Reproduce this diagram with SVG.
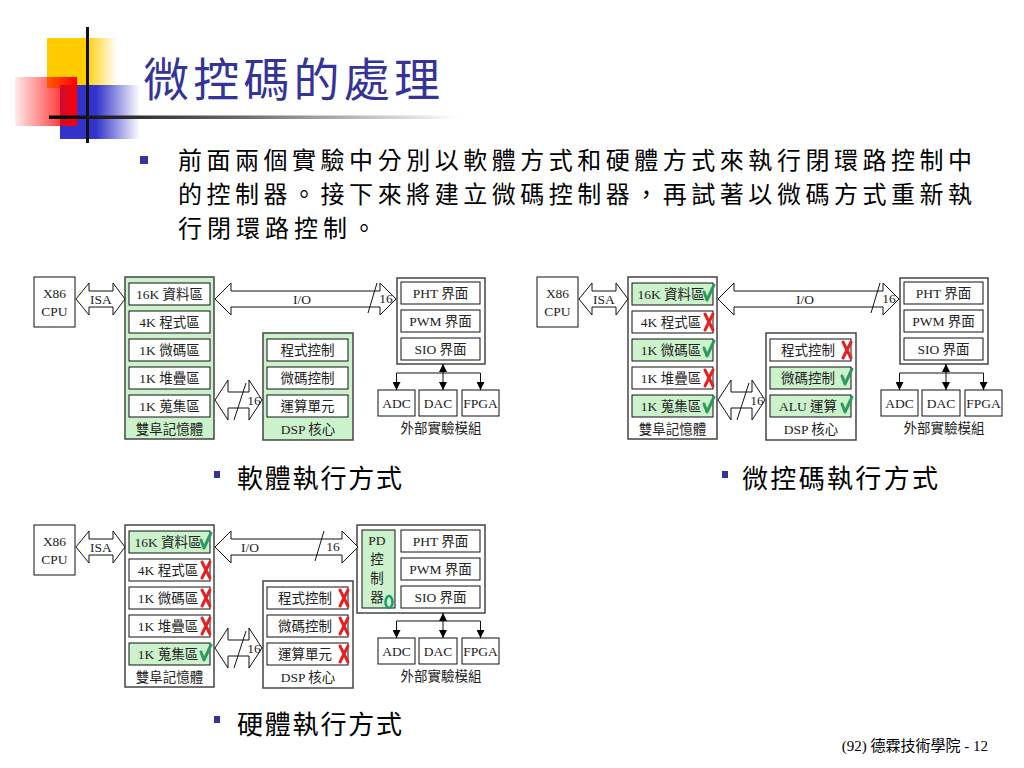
<svg xmlns="http://www.w3.org/2000/svg" width="1024" height="768" viewBox="0 0 1024 768">
<defs>
<linearGradient id="gy" x1="0" y1="0" x2="1" y2="0"><stop offset="0" stop-color="#ffcc00"/><stop offset="0.55" stop-color="#ffcc00"/><stop offset="1" stop-color="#ffcc00" stop-opacity="0"/></linearGradient>
<linearGradient id="gb" x1="0" y1="0" x2="1" y2="0"><stop offset="0" stop-color="#3333cc"/><stop offset="0.45" stop-color="#3333cc"/><stop offset="1" stop-color="#3333cc" stop-opacity="0"/></linearGradient>
<linearGradient id="gr" x1="0" y1="0" x2="1" y2="0"><stop offset="0" stop-color="#ff0000" stop-opacity="0.08"/><stop offset="1" stop-color="#ff0000"/></linearGradient>
<linearGradient id="gl" x1="0" y1="0" x2="1" y2="0"><stop offset="0" stop-color="#000"/><stop offset="0.45" stop-color="#666"/><stop offset="1" stop-color="#fff"/></linearGradient>
<marker id="ah" viewBox="0 0 10 10" refX="10" refY="5" markerWidth="8" markerHeight="8" markerUnits="userSpaceOnUse" orient="auto-start-reverse"><path d="M0,0 L10,5 L0,10 z" fill="#000"/></marker>
</defs>
<style>
.t{font-family:"Liberation Serif","Noto Sans CJK TC",serif;font-size:13.5px;fill:#222;text-anchor:middle}
.cj{font-family:"Noto Sans CJK TC","Liberation Sans",sans-serif}
.in{font-family:"Noto Sans CJK TC","Liberation Sans",sans-serif;font-size:24px;fill:#000}
.ob{fill:#fff;stroke:#444;stroke-width:1.5}
.og{fill:#ccf2cc;stroke:#444;stroke-width:1.5}
.ib{fill:#fff;stroke:#111;stroke-width:1}
.ig{fill:#ccf2cc;stroke:#111;stroke-width:1}
.ar{fill:#fff;stroke:#111;stroke-width:1}
.ln{stroke:#111;stroke-width:1;fill:none}
.ok{fill:none;stroke:#2e9a5e;stroke-width:3;stroke-linecap:round;stroke-linejoin:round}
.no{stroke:#e62020;stroke-width:3;stroke-linecap:round}
.bul{fill:#333399}
</style>
<rect width="1024" height="768" fill="#fff"/>
<g id="decoration">
<rect x="47" y="38" width="70" height="50" fill="url(#gy)"/>
<rect x="60" y="85" width="80" height="54" fill="url(#gb)"/>
<rect x="15" y="77" width="62" height="49" fill="url(#gr)"/>
<rect x="86" y="27" width="3" height="116" fill="#111"/>
<rect x="49" y="115.5" width="411" height="3.5" fill="url(#gl)"/>
</g>
<text x="143" y="96" class="cj" font-size="46" fill="#333399" textLength="297" lengthAdjust="spacing">微控碼的處理</text>
<g id="intro">
<rect x="140" y="156" width="8" height="8" class="bul"/>
<text class="in" x="178" y="169" textLength="794" lengthAdjust="spacing">前面兩個實驗中分別以軟體方式和硬體方式來執行閉環路控制中</text>
<text class="in" x="178" y="203" textLength="794" lengthAdjust="spacing">的控制器。接下來將建立微碼控制器，再試著以微碼方式重新執</text>
<text class="in" x="178" y="237" textLength="198" lengthAdjust="spacing">行閉環路控制。</text>
</g>

<!-- Diagram 1: software -->
<g id="diagram1">
<g id="d1-cpu"><rect x="34" y="277" width="41" height="50" class="ib"/><text class="t" x="54.5" y="298">X86</text><text class="t" x="54.5" y="316">CPU</text></g>
<g id="d1-mem"><rect x="125" y="277" width="89" height="162" class="og"/>
<rect x="129" y="283" width="81" height="22" class="ib"/><text class="t" x="169.5" y="299">16K 資料區</text>
<rect x="129" y="311" width="81" height="22" class="ib"/><text class="t" x="169.5" y="327">4K 程式區</text>
<rect x="129" y="339" width="81" height="22" class="ib"/><text class="t" x="169.5" y="355">1K 微碼區</text>
<rect x="129" y="367" width="81" height="22" class="ib"/><text class="t" x="169.5" y="383">1K 堆疊區</text>
<rect x="129" y="395" width="81" height="22" class="ib"/><text class="t" x="169.5" y="411">1K 蒐集區</text>
<text class="t" x="169.5" y="434">雙阜記憶體</text></g>
<g id="d1-dsp"><rect x="263" y="333" width="90" height="107" class="og"/>
<rect x="267" y="339" width="81" height="22" class="ib"/><text class="t" x="307.5" y="355">程式控制</text>
<rect x="267" y="367" width="81" height="22" class="ib"/><text class="t" x="307.5" y="383">微碼控制</text>
<rect x="267" y="395" width="81" height="22" class="ib"/><text class="t" x="307.5" y="411">運算單元</text>
<text class="t" x="308" y="434">DSP 核心</text></g>
<g id="d1-io"><rect x="397" y="278" width="88" height="86" class="ob"/>
<rect x="401" y="282" width="79" height="22" class="ib"/><text class="t" x="440.5" y="298">PHT 界面</text>
<rect x="401" y="310" width="79" height="22" class="ib"/><text class="t" x="440.5" y="326">PWM 界面</text>
<rect x="401" y="338" width="79" height="22" class="ib"/><text class="t" x="440.5" y="354">SIO 界面</text></g>
<g id="d1-adc"><rect x="378" y="390" width="37" height="26" class="ib"/><text class="t" x="396.5" y="408">ADC</text></g>
<g id="d1-dac"><rect x="419" y="390" width="38" height="26" class="ib"/><text class="t" x="438" y="408">DAC</text></g>
<g id="d1-fpga"><rect x="462" y="390" width="37" height="26" class="ib"/><text class="t" x="480.5" y="408">FPGA</text><text class="t" x="441" y="433">外部實驗模組</text></g>
<g id="d1-connectors">
<path d="M76,299 L89,283 L89,291 L113,291 L113,283 L125,299 L113,315 L113,307 L89,307 L89,315 Z" class="ar"/><text class="t" x="101" y="304">ISA</text>
<path d="M215,299 L231,283 L231,291 L380,291 L380,283 L396,299 L380,315 L380,307 L231,307 L231,315 Z" class="ar"/><text class="t" x="302" y="304">I/O</text>
<line x1="368" y1="313" x2="377" y2="283" class="ln"/><text class="t" x="386" y="303">16</text>
<path d="M215,400 L228,380 L228,392 L249,392 L249,380 L262,400 L249,420 L249,408 L228,408 L228,420 Z" class="ar"/>
<line x1="234" y1="420" x2="246" y2="383" class="ln"/><text class="t" x="254" y="405">16</text>
<line x1="443" y1="364" x2="443" y2="390" class="ln" marker-start="url(#ah)" marker-end="url(#ah)"/>
<polyline points="396.5,390 396.5,373 480.5,373 480.5,390" class="ln"/>
<line x1="396.5" y1="380" x2="396.5" y2="390" class="ln" marker-end="url(#ah)"/>
<line x1="480.5" y1="380" x2="480.5" y2="390" class="ln" marker-end="url(#ah)"/>
</g>
</g>
<g id="label1"><rect x="214" y="471" width="6" height="7" class="bul"/><text x="237" y="488" class="cj" font-size="26" fill="#000" textLength="165" lengthAdjust="spacing">軟體執行方式</text></g>

<!-- Diagram 2: microcode -->
<g id="diagram2" transform="translate(503,0)">
<g id="d2-cpu"><rect x="34" y="277" width="41" height="50" class="ib"/><text class="t" x="54.5" y="298">X86</text><text class="t" x="54.5" y="316">CPU</text></g>
<g id="d2-mem"><rect x="125" y="277" width="89" height="162" class="ob"/>
<rect x="129" y="283" width="81" height="22" class="ig"/><text class="t" x="168" y="299">16K 資料區</text><path d="M201,292 L204,300 L211,285" class="ok"/>
<rect x="129" y="311" width="81" height="22" class="ib"/><text class="t" x="168" y="327">4K 程式區</text><path d="M202,314 L210,330 M210,314 L202,330" class="no"/>
<rect x="129" y="339" width="81" height="22" class="ig"/><text class="t" x="168" y="355">1K 微碼區</text><path d="M201,348 L204,356 L211,341" class="ok"/>
<rect x="129" y="367" width="81" height="22" class="ib"/><text class="t" x="168" y="383">1K 堆疊區</text><path d="M202,370 L210,386 M210,370 L202,386" class="no"/>
<rect x="129" y="395" width="81" height="22" class="ig"/><text class="t" x="168" y="411">1K 蒐集區</text><path d="M201,404 L204,412 L211,397" class="ok"/>
<text class="t" x="169.5" y="434">雙阜記憶體</text></g>
<g id="d2-dsp"><rect x="263" y="333" width="90" height="107" class="ob"/>
<rect x="267" y="339" width="81" height="22" class="ib"/><text class="t" x="305" y="355">程式控制</text><path d="M340,342 L348,358 M348,342 L340,358" class="no"/>
<rect x="267" y="367" width="81" height="22" class="ig"/><text class="t" x="305" y="383">微碼控制</text><path d="M339,376 L342,384 L349,369" class="ok"/>
<rect x="267" y="395" width="81" height="22" class="ig"/><text class="t" x="305" y="411">ALU 運算</text><path d="M339,404 L342,412 L349,397" class="ok"/>
<text class="t" x="308" y="434">DSP 核心</text></g>
<g id="d2-io"><rect x="397" y="278" width="88" height="86" class="ob"/>
<rect x="401" y="282" width="79" height="22" class="ib"/><text class="t" x="440.5" y="298">PHT 界面</text>
<rect x="401" y="310" width="79" height="22" class="ib"/><text class="t" x="440.5" y="326">PWM 界面</text>
<rect x="401" y="338" width="79" height="22" class="ib"/><text class="t" x="440.5" y="354">SIO 界面</text></g>
<g id="d2-adc"><rect x="378" y="390" width="37" height="26" class="ib"/><text class="t" x="396.5" y="408">ADC</text></g>
<g id="d2-dac"><rect x="419" y="390" width="38" height="26" class="ib"/><text class="t" x="438" y="408">DAC</text></g>
<g id="d2-fpga"><rect x="462" y="390" width="37" height="26" class="ib"/><text class="t" x="480.5" y="408">FPGA</text><text class="t" x="441" y="433">外部實驗模組</text></g>
<g id="d2-connectors">
<path d="M76,299 L89,283 L89,291 L113,291 L113,283 L125,299 L113,315 L113,307 L89,307 L89,315 Z" class="ar"/><text class="t" x="101" y="304">ISA</text>
<path d="M215,299 L231,283 L231,291 L380,291 L380,283 L396,299 L380,315 L380,307 L231,307 L231,315 Z" class="ar"/><text class="t" x="302" y="304">I/O</text>
<line x1="368" y1="313" x2="377" y2="283" class="ln"/><text class="t" x="386" y="303">16</text>
<path d="M215,400 L228,380 L228,392 L249,392 L249,380 L262,400 L249,420 L249,408 L228,408 L228,420 Z" class="ar"/>
<line x1="234" y1="420" x2="246" y2="383" class="ln"/><text class="t" x="254" y="405">16</text>
<line x1="443" y1="364" x2="443" y2="390" class="ln" marker-start="url(#ah)" marker-end="url(#ah)"/>
<polyline points="396.5,390 396.5,373 480.5,373 480.5,390" class="ln"/>
<line x1="396.5" y1="380" x2="396.5" y2="390" class="ln" marker-end="url(#ah)"/>
<line x1="480.5" y1="380" x2="480.5" y2="390" class="ln" marker-end="url(#ah)"/>
</g>
</g>
<g id="label2"><rect x="722" y="471" width="6" height="7" class="bul"/><text x="742" y="488" class="cj" font-size="26" fill="#000" textLength="196" lengthAdjust="spacing">微控碼執行方式</text></g>

<!-- Diagram 3: hardware -->
<g id="diagram3" transform="translate(0,248)">
<g id="d3-cpu"><rect x="34" y="277" width="41" height="50" class="ib"/><text class="t" x="54.5" y="298">X86</text><text class="t" x="54.5" y="316">CPU</text></g>
<g id="d3-mem"><rect x="125" y="277" width="89" height="162" class="ob"/>
<rect x="129" y="283" width="81" height="22" class="ig"/><text class="t" x="168" y="299">16K 資料區</text><path d="M201,292 L204,300 L211,285" class="ok"/>
<rect x="129" y="311" width="81" height="22" class="ib"/><text class="t" x="168" y="327">4K 程式區</text><path d="M202,314 L210,330 M210,314 L202,330" class="no"/>
<rect x="129" y="339" width="81" height="22" class="ib"/><text class="t" x="168" y="355">1K 微碼區</text><path d="M202,342 L210,358 M210,342 L202,358" class="no"/>
<rect x="129" y="367" width="81" height="22" class="ib"/><text class="t" x="168" y="383">1K 堆疊區</text><path d="M202,370 L210,386 M210,370 L202,386" class="no"/>
<rect x="129" y="395" width="81" height="22" class="ig"/><text class="t" x="168" y="411">1K 蒐集區</text><path d="M201,404 L204,412 L211,397" class="ok"/>
<text class="t" x="169.5" y="434">雙阜記憶體</text></g>
<g id="d3-dsp"><rect x="263" y="333" width="90" height="107" class="ob"/>
<rect x="267" y="339" width="81" height="22" class="ib"/><text class="t" x="305" y="355">程式控制</text><path d="M340,342 L348,358 M348,342 L340,358" class="no"/>
<rect x="267" y="367" width="81" height="22" class="ib"/><text class="t" x="305" y="383">微碼控制</text><path d="M340,370 L348,386 M348,370 L340,386" class="no"/>
<rect x="267" y="395" width="81" height="22" class="ib"/><text class="t" x="305" y="411">運算單元</text><path d="M340,398 L348,414 M348,398 L340,414" class="no"/>
<text class="t" x="308" y="434">DSP 核心</text></g>
<g id="d3-io"><rect x="357" y="277" width="128" height="88" class="ob"/>
<rect x="362" y="282" width="33" height="78" class="ig"/>
<text class="t" x="377" y="297">PD</text><text class="t" x="377" y="316">控</text><text class="t" x="377" y="335">制</text><text class="t" x="377" y="354">器</text>
<ellipse cx="389" cy="354" rx="3.5" ry="6" fill="none" stroke="#1e9a6a" stroke-width="2.5"/>
<rect x="401" y="282" width="79" height="22" class="ib"/><text class="t" x="440.5" y="298">PHT 界面</text>
<rect x="401" y="310" width="79" height="22" class="ib"/><text class="t" x="440.5" y="326">PWM 界面</text>
<rect x="401" y="338" width="79" height="22" class="ib"/><text class="t" x="440.5" y="354">SIO 界面</text></g>
<g id="d3-adc"><rect x="378" y="390" width="37" height="26" class="ib"/><text class="t" x="396.5" y="408">ADC</text></g>
<g id="d3-dac"><rect x="419" y="390" width="38" height="26" class="ib"/><text class="t" x="438" y="408">DAC</text></g>
<g id="d3-fpga"><rect x="462" y="390" width="37" height="26" class="ib"/><text class="t" x="480.5" y="408">FPGA</text><text class="t" x="441" y="433">外部實驗模組</text></g>
<g id="d3-connectors">
<path d="M76,299 L89,283 L89,291 L113,291 L113,283 L125,299 L113,315 L113,307 L89,307 L89,315 Z" class="ar"/><text class="t" x="101" y="304">ISA</text>
<path d="M215,299 L231,283 L231,291 L342,291 L342,283 L358,299 L342,315 L342,307 L231,307 L231,315 Z" class="ar"/><text class="t" x="250" y="304">I/O</text>
<line x1="315" y1="313" x2="324" y2="283" class="ln"/><text class="t" x="333" y="303">16</text>
<path d="M215,400 L228,380 L228,392 L249,392 L249,380 L262,400 L249,420 L249,408 L228,408 L228,420 Z" class="ar"/>
<line x1="234" y1="420" x2="246" y2="383" class="ln"/><text class="t" x="254" y="405">16</text>
<line x1="443" y1="365" x2="443" y2="390" class="ln" marker-start="url(#ah)" marker-end="url(#ah)"/>
<polyline points="396.5,390 396.5,373 480.5,373 480.5,390" class="ln"/>
<line x1="396.5" y1="380" x2="396.5" y2="390" class="ln" marker-end="url(#ah)"/>
<line x1="480.5" y1="380" x2="480.5" y2="390" class="ln" marker-end="url(#ah)"/>
</g>
</g>
<g id="label3"><rect x="214" y="716" width="6" height="7" class="bul"/><text x="237" y="734" class="cj" font-size="26" fill="#000" textLength="165" lengthAdjust="spacing">硬體執行方式</text></g>
<text x="988" y="751" font-family="Liberation Serif,Noto Sans CJK TC,serif" font-size="15" fill="#000" text-anchor="end">(92) 德霖技術學院 - 12</text>
</svg>
